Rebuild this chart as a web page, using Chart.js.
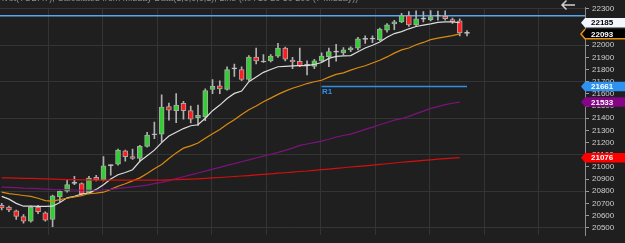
<!DOCTYPE html>
<html>
<head>
<meta charset="utf-8">
<script src="https://cdn.jsdelivr.net/npm/chart.js@4.4.1/dist/chart.umd.min.js"></script>
<style>
  html, body { margin:0; padding:0; background:#1f1f1f; overflow:hidden; }
  #wrap { position:relative; width:625px; height:243px; }
</style>
</head>
<body>
<div id="wrap"><canvas id="priceChart"></canvas></div>
<script>
// Bars (one per session, index = bar number)
const opens  = [20685,20669,20638,20592,20554,20669,20623,20569,20754,20800,20864,20862,20785,20915,20892,21010,21023,21131,21085,21069,21169,21264,21269,21495,21462,21523,21462,21405,21410,21636,21667,21636,21806,21800,21718,21902,21862,21872,21910,21977,21877,21867,21835,21825,21872,21905,21943,21936,21962,21975,22048,22050,22046,22123,22175,22192,22244,22167,22214,22210,22238,22238,22210,22200,22097];
const highs  = [20700,20677,20646,20608,20677,20685,20631,20769,20802,20892,20923,20869,20923,20931,21085,21017,21146,21138,21146,21177,21285,21369,21592,21525,21602,21538,21500,21508,21641,21718,21708,21823,21846,21823,21915,21977,21923,21923,22015,21985,21900,21977,21872,21885,21938,21977,22008,21980,21987,22064,22077,22077,22141,22179,22205,22262,22277,22282,22277,22285,22280,22282,22223,22218,22121];
const lows   = [20646,20631,20569,20538,20546,20615,20554,20508,20715,20792,20854,20769,20777,20885,20885,20931,21015,21046,21062,21046,21162,21231,21208,21385,21364,21392,21362,21341,21379,21602,21602,21631,21744,21708,21708,21846,21858,21862,21900,21872,21808,21823,21756,21808,21862,21823,21869,21923,21948,21962,22015,22021,22038,22108,22128,22185,22154,22159,22192,22200,22205,22205,22179,22077,22077];
const closes = [20662,20646,20592,20554,20669,20631,20562,20762,20800,20854,20869,20777,20908,20892,21008,21015,21138,21085,21069,21169,21262,21268,21492,21467,21508,21462,21392,21423,21628,21662,21641,21800,21812,21718,21902,21872,21868,21910,21977,21885,21864,21833,21838,21872,21910,21948,21948,21962,21979,22052,22052,22054,22133,22167,22192,22244,22167,22218,22218,22236,22242,22218,22192,22102,22099];

// Moving averages (white, orange, purple, red)
const maFast = [20758,20735,20700,20677,20677,20675,20675,20677,20708,20746,20758,20777,20785,20815,20854,20900,20935,20954,20977,21046,21092,21138,21200,21254,21285,21315,21338,21346,21400,21462,21508,21562,21604,21623,21700,21739,21777,21800,21823,21827,21831,21833,21833,21842,21858,21892,21908,21912,21915,21946,21977,22000,22027,22065,22096,22112,22135,22154,22165,22175,22188,22192,22192,22185];
const maMid  = [20792,20781,20773,20765,20758,20742,20723,20718,20731,20742,20754,20764,20781,20785,20792,20815,20841,20861,20885,20910,20946,20985,21019,21069,21115,21154,21173,21196,21235,21273,21308,21350,21388,21431,21469,21500,21535,21565,21596,21623,21646,21665,21685,21700,21712,21738,21760,21773,21795,21815,21831,21854,21877,21904,21935,21962,21977,22004,22023,22046,22058,22069,22079,22093];
const maSlow = [20833,20831,20829,20825,20823,20821,20818,20815,20814,20812,20810,20808,20808,20808,20812,20815,20823,20829,20835,20842,20850,20862,20873,20887,20904,20919,20935,20950,20965,20981,20996,21012,21027,21042,21058,21073,21088,21104,21119,21136,21154,21177,21188,21200,21212,21227,21246,21258,21269,21288,21308,21327,21346,21365,21385,21396,21415,21438,21458,21481,21496,21512,21523,21533];
const maLong = [20910,20909,20908,20906,20905,20903,20901,20899,20897,20896,20895,20894,20893,20892,20892,20892,20892,20892,20892,20892,20892,20892,20892,20894,20895,20898,20900,20902,20905,20909,20913,20917,20921,20925,20929,20934,20938,20943,20948,20952,20957,20962,20966,20972,20977,20982,20988,20993,20999,21004,21009,21015,21020,21026,21032,21038,21043,21048,21053,21058,21064,21068,21072,21076];

// Levels
const r1Level = 21661;
const r1Bars = [44, 64];
const alertLevel = 22242;

const yTickValues = [20500,20600,20700,20800,20900,21000,21100,21200,21300,21400,21500,21600,21700,21800,21900,22000,22100,22200,22300];
const titleText = 'Pivot(TODAY), Calculated from Midday Data(1,0,0,0,1), Line (MA 10 20 50 200 (7 Midday))';

const GREEN = '#2fd02f', RED = '#ff1c1c', DOJI = '#d8d8d8';
const bodyColors = opens.map((o, i) => {
  const d = closes[i] - o;
  if (Math.abs(d) < 8) return DOJI;
  return d > 0 ? GREEN : RED;
});

const pts = arr => arr.map((v, i) => ({ x: i, y: v }));
const last = arr => arr[arr.length - 1];

const tags = [
  { value: last(maFast), bg: '#f3f6fc', fg: '#000' },
  { value: last(maMid),  bg: '#000000', fg: '#fff', edge: '#e8920e' },
  { value: r1Level,      bg: '#2f92f0', fg: '#fff' },
  { value: last(maSlow), bg: '#860486', fg: '#fff' },
  { value: last(maLong), bg: '#ff0000', fg: '#fff' }
];

// Extra drawing: title strip, alert line, arrow, R1 text, price tags
const overlay = {
  id: 'overlay',
  beforeDatasetsDraw(chart) {
    const { ctx, chartArea, scales } = chart;
    const y = scales.y.getPixelForValue(alertLevel);
    ctx.save();
    ctx.strokeStyle = '#5aa6ee';
    ctx.lineWidth = 1.5;
    ctx.beginPath();
    ctx.moveTo(chartArea.left, y);
    ctx.lineTo(chartArea.right, y);
    ctx.stroke();
    ctx.restore();
  },
  afterDraw(chart) {
    const { ctx, chartArea, scales } = chart;
    const ys = scales.y, xs = scales.x;
    ctx.save();

    ctx.font = '9px "Liberation Sans", Arial, sans-serif';
    ctx.fillStyle = '#8e8e8e';
    ctx.textBaseline = 'alphabetic';
    ctx.fillText(titleText, -4, 1);

    // back arrow
    ctx.strokeStyle = '#cfcfcf';
    ctx.lineWidth = 1.5;
    ctx.beginPath();
    ctx.moveTo(575, 5); ctx.lineTo(562, 5);
    ctx.moveTo(566.5, 0.5); ctx.lineTo(562, 5); ctx.lineTo(566.5, 9.5);
    ctx.stroke();

    // R1 label
    ctx.font = 'bold 8px "Liberation Sans", Arial, sans-serif';
    ctx.fillStyle = '#2f8fe8';
    ctx.textBaseline = 'top';
    ctx.fillText('R1', xs.getPixelForValue(r1Bars[0]) + 0.5, ys.getPixelForValue(r1Level) + 1.5);

    // price tags on the axis
    const x0 = chartArea.right, x1 = chart.width, h = 9.5;
    ctx.textBaseline = 'middle';
    tags.forEach(t => {
      const y = ys.getPixelForValue(t.value);
      ctx.beginPath();
      ctx.moveTo(x0 - 4, y);
      ctx.lineTo(x0, y - h / 2);
      ctx.lineTo(x1, y - h / 2);
      ctx.lineTo(x1, y + h / 2);
      ctx.lineTo(x0, y + h / 2);
      ctx.closePath();
      ctx.fillStyle = t.bg;
      ctx.fill();
      if (t.edge) {
        ctx.strokeStyle = t.edge;
        ctx.lineWidth = 1.5;
        ctx.beginPath();
        ctx.moveTo(x0, y - h / 2);
        ctx.lineTo(x0 - 4, y);
        ctx.lineTo(x0, y + h / 2);
        ctx.lineTo(x1, y + h / 2);
        ctx.stroke();
      }
      ctx.fillStyle = t.fg;
      ctx.fillText(String(t.value), x0 + 6, y + 0.5);
    });
    ctx.restore();
  }
};

const lineDs = (data, color) => ({
  type: 'line', data: pts(data), borderColor: color, borderWidth: 1.2,
  pointRadius: 0, tension: 0, order: 1
});

new Chart(document.getElementById('priceChart'), {
  type: 'bar',
  data: {
    datasets: [
      lineDs(maLong, '#d30f0f'),
      lineDs(maSlow, '#7c137c'),
      lineDs(maMid, '#d98a12'),
      lineDs(maFast, '#dcdcdc'),
      {
        type: 'line', data: [{ x: r1Bars[0], y: r1Level }, { x: r1Bars[1], y: r1Level }],
        borderColor: '#2f8fe8', borderWidth: 1.5, pointRadius: 0, order: 1
      },
      {
        data: opens.map((o, i) => ({ x: i, y: [lows[i], highs[i]] })),
        backgroundColor: '#b0b0b0', barThickness: 1, grouped: false, order: 3
      },
      {
        data: opens.map((o, i) => ({ x: i, y: [o, closes[i]] })),
        backgroundColor: bodyColors, borderColor: '#a9a9a9', borderWidth: 1,
        borderSkipped: false, barThickness: 5, minBarLength: 1, grouped: false, order: 2
      }
    ]
  },
  options: {
    responsive: true,
    maintainAspectRatio: false,
    animation: false,
    layout: { padding: 0, autoPadding: false },
    plugins: { legend: { display: false }, tooltip: { enabled: false } },
    scales: {
      x: {
        type: 'linear', min: -0.234, max: 80.23, offset: false,
        grid: { color: '#343434', offset: false, drawTicks: false },
        border: { display: false },
        ticks: { display: false },
        afterBuildTicks: s => {
          const t = [];
          for (let v = 6.37; v < s.max; v += 7.5) t.push({ value: v });
          s.ticks = t;
        },
        afterFit: s => { s.height = 0; }
      },
      y: {
        position: 'right', min: 20438.5, max: 22307.7,
        afterBuildTicks: s => { s.ticks = yTickValues.map(v => ({ value: v })); },
        afterFit: s => { s.width = 40; },
        border: { color: '#8c8c8c', width: 1 },
        grid: {
          color: c => (c.tick && c.tick.value % 300 === 100) ? '#343434' : 'rgba(0,0,0,0)',
          tickColor: '#9a9a9a', tickLength: 4, drawTicks: true
        },
        ticks: {
          color: '#cfcfcf', padding: 3, autoSkip: false,
          font: { family: '"Liberation Sans", Arial, sans-serif', size: 8 },
          callback: v => String(v)
        }
      }
    }
  },
  plugins: [overlay]
});
</script>
</body>
</html>
